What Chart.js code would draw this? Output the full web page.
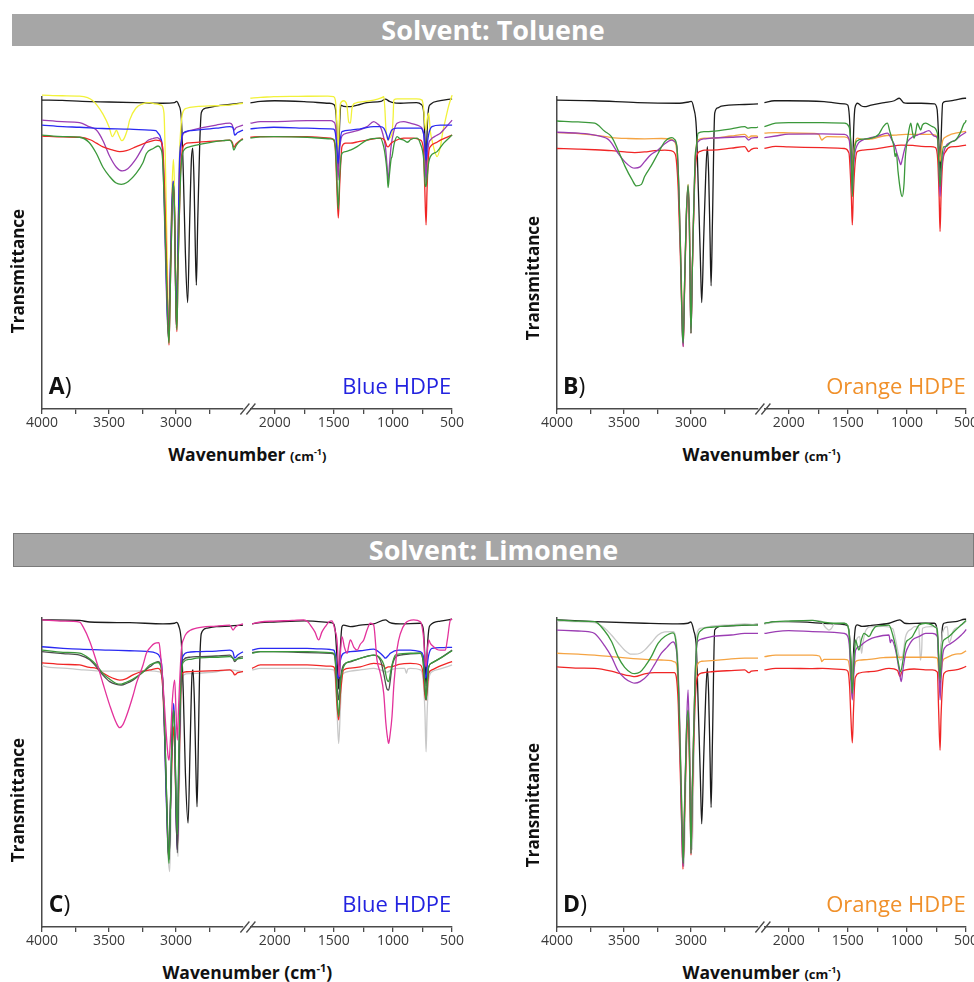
<!DOCTYPE html>
<html>
<head>
<meta charset="utf-8">
<script src="https://cdn.jsdelivr.net/npm/chart.js@4.4.1/dist/chart.umd.min.js"></script>
<style>
  html, body { margin: 0; padding: 0; background: #ffffff; }
  #page { position: relative; width: 974px; height: 982px; overflow: hidden; font-family: "Open Sans", sans-serif; }
  canvas { position: absolute; }
  .bar { position: absolute; background: #a6a6a6; color: #fff; font-weight: 700; font-size: 27px; text-align: center; box-sizing: border-box; }
  .ytitle { position: absolute; font-weight: 700; font-size: 17px; color: #111; white-space: nowrap; text-align: center; transform: rotate(-90deg); }
  .xtitle { position: absolute; font-weight: 700; font-size: 17.5px; color: #111; white-space: nowrap; text-align: center; }
  .xtitle .u { font-size: 13px; }
  .xtitle sup { font-size: 9px; vertical-align: 6px; line-height: 0; }
  .letter { position: absolute; font-size: 23px; color: #111; white-space: nowrap; }
  .letter b { font-weight: 700; }
  .tag { position: absolute; font-size: 22px; white-space: nowrap; text-align: right; }
</style>
</head>
<body>
<div id="page">
  <div class="bar" style="left:12px;top:14px;width:962px;height:32px;line-height:32px;">Solvent: Toluene</div>
  <div class="bar" style="left:13px;top:533px;width:961px;height:34px;line-height:32px;border:1px solid #7a7a7a;">Solvent: Limonene</div>
</div>
<script>
// ---------------- DATA: [wavenumber (cm-1), transmittance (a.u.)] ----------------
const TICKS_LEFT = [4000, 3750, 3500, 3250, 3000, 2750];
const TICKS_RIGHT = [2000, 1750, 1500, 1250, 1000, 750, 500];
const RANGE_LEFT = [2500, 4000];
const RANGE_RIGHT = [500, 2205];

// Panel A - Toluene, Blue HDPE
const A_black = [[4000,99.0],[3850,98.9],[3700,98.6],[3500,98.4],[3300,98.2],[3100,98.0],[3010,98.2],[2997,98.6],[2980,97.5],[2960,93],[2945,75],[2930,50],[2913,34.1],[2898,60],[2885,80],[2875,83.6],[2865,72],[2856,52],[2848,39.7],[2838,60],[2823,85],[2811,95],[2780,96.4],[2700,97.1],[2600,97.6],[2500,98.1],
 [2205,98.1],[2120,98.6],[2000,98.8],[1750,98.5],[1540,98.0],[1500,97.6],[1480,94],[1470,85],[1462,76],[1452,90],[1440,97.4],[1417,97.0],[1360,96.9],[1300,97.4],[1220,98.2],[1100,98.6],[1064,99.3],[1030,98.6],[1008,98.3],[937,98.0],[800,98.2],[760,97.6],[740,95],[728,85],[720,76],[712,88],[700,96],[684,97.6],[600,98.8],[500,99.4]];
const A_yellow = [[4000,100.6],[3850,100.4],[3720,100.3],[3660,99.8],[3620,98.8],[3590,97.4],[3545,94.5],[3500,90.5],[3475,87.3],[3460,88.2],[3445,89.4],[3430,88.0],[3405,86.0],[3390,86.5],[3360,90],[3346,92.6],[3300,96.4],[3250,97.8],[3200,98.2],[3150,97.8],[3110,97.4],[3090,95],[3075,70],[3060,35],[3052,24],[3042,45],[3030,70],[3020,80],[3012,72],[3003,40],[2997,26],[2988,50],[2975,80],[2960,92],[2945,95.5],[2920,96.4],[2850,96.9],[2700,97.2],[2600,97.4],[2500,98.0],
 [2205,99.6],[2120,99.9],[2008,100.1],[1800,100.2],[1550,100.3],[1501,100.1],[1487,99.0],[1475,92],[1464,80],[1456,90],[1445,97.8],[1417,98.8],[1390,97.5],[1374,92],[1360,91.6],[1346,96.4],[1320,98],[1250,98.5],[1163,99.0],[1100,99.7],[1078,100.1],[1068,96],[1060,90],[1041,86.2],[1025,87],[1008,88.4],[998,94],[993,99.0],[965,99.4],[900,99.4],[800,99.4],[754,99.0],[740,96],[730,91],[720,89.4],[710,93],[698,94.8],[684,89],[670,86.2],[650,83],[627,80.9],[599,84.1],[578,89],[557,92.6],[530,97],[514,99.0],[500,100.6]];
const A_purple = [[4000,92.6],[3850,92.1],[3720,91.8],[3650,90.5],[3594,89.4],[3545,86],[3495,81],[3445,77.5],[3400,76.3],[3360,77],[3296,80.3],[3246,84],[3221,85.7],[3170,86.7],[3140,87],[3122,86.5],[3109,85.7],[3097,80],[3085,60],[3070,35],[3057,23],[3045,40],[3032,65],[3022,73],[3012,65],[3003,40],[2997,26],[2988,45],[2975,75],[2960,85],[2947,88.2],[2935,88.6],[2900,89.2],[2823,90],[2700,91],[2599,91.6],[2580,91],[2569,89.4],[2550,90.2],[2500,91.0],
 [2205,91.6],[2121,92.1],[2008,92.1],[1726,92.4],[1529,92.4],[1501,92.0],[1487,91.0],[1475,85],[1464,73.4],[1453,82],[1431,87.5],[1388,88.4],[1303,89.2],[1219,90.5],[1163,92.1],[1135,91.5],[1107,90.5],[1078,87],[1064,84.1],[1050,78],[1041,72.9],[1030,78],[1016,84.1],[993,89],[965,91.6],[909,92.1],[853,91.6],[796,91.0],[768,90.5],[740,88],[728,80],[720,72.4],[712,80],[698,85],[684,86.2],[640,87.5],[599,88.4],[560,90],[500,92.6]];
const A_blue = [[4000,91.0],[3843,90.5],[3719,90.3],[3550,89.9],[3346,89.7],[3200,89.4],[3150,89.2],[3134,88.4],[3115,87],[3100,83],[3085,65],[3070,38],[3057,24],[3045,40],[3030,65],[3020,73],[3012,63],[3003,40],[2997,27],[2988,45],[2975,78],[2960,86],[2947,88.4],[2900,89.2],[2848,89.4],[2700,90],[2599,90.5],[2575,90.2],[2562,87.8],[2540,88.6],[2500,89.4],
 [2205,89.8],[2121,90.1],[2008,90.3],[1726,90.0],[1529,89.8],[1501,89.7],[1487,88.5],[1475,84],[1464,78.7],[1453,84],[1431,88.9],[1360,89.4],[1276,89.8],[1163,90.5],[1107,90.5],[1078,90.0],[1050,87.5],[1041,86.2],[1030,87.5],[1008,89.5],[965,90],[853,90],[768,90],[740,88],[728,83],[720,79.8],[712,84],[698,88],[670,90.5],[599,91.0],[500,91.0]];
const A_red = [[4000,87.5],[3843,87.2],[3719,87.1],[3640,86.3],[3594,85.2],[3545,84],[3470,83],[3420,82.5],[3370,82.8],[3296,84.1],[3246,85],[3196,85.7],[3150,86.2],[3122,86],[3100,84],[3085,70],[3070,45],[3060,28],[3052,20.5],[3042,40],[3030,62],[3020,71],[3010,62],[3002,35],[2993,24.8],[2985,45],[2967,75],[2947,84.1],[2920,85.2],[2898,85.3],[2773,85.7],[2650,86],[2599,86.2],[2580,85.5],[2569,83.9],[2550,85],[2512,86.4],[2500,86.6],
 [2205,87.1],[2121,87.3],[2008,87.3],[1726,87.3],[1529,86.8],[1501,86.2],[1487,83],[1475,72],[1462,61.2],[1450,72],[1431,84.1],[1400,85.2],[1360,85.2],[1290,85.7],[1219,86.2],[1107,86.8],[1070,86.2],[1050,84.1],[1041,84],[1016,85.2],[980,86],[909,86.8],[825,86.8],[768,86.2],[745,84],[732,72],[720,59],[712,70],[698,82],[684,84.1],[627,85.5],[599,86.2],[550,87],[500,87.8]];
const A_green = [[4000,87.8],[3843,87.3],[3719,87.1],[3650,85.5],[3594,81.9],[3545,77.5],[3495,74.5],[3450,72.5],[3408,72.0],[3370,72.5],[3296,75.6],[3246,79],[3221,81.9],[3170,83.5],[3134,84.3],[3115,83.5],[3100,80],[3085,62],[3070,40],[3060,26],[3052,21.1],[3042,40],[3030,62],[3020,72.4],[3010,62],[3002,35],[2993,25.4],[2985,45],[2965,75],[2947,82.5],[2900,84],[2848,84.6],[2750,85.4],[2650,86],[2599,86.2],[2580,85],[2569,83],[2550,84.5],[2512,86.2],[2500,86.4],
 [2205,86.8],[2121,87.2],[2008,87.3],[1726,87.1],[1529,86.6],[1501,86.4],[1487,84],[1475,75],[1462,64],[1450,75],[1431,81.9],[1400,82.5],[1360,83],[1303,84.1],[1219,86.2],[1107,86.8],[1078,84],[1064,80.9],[1050,76],[1041,71],[1030,75],[1016,80],[1008,80.9],[990,85],[965,87.3],[937,86.5],[909,86.2],[880,85.5],[867,85.7],[853,86.3],[796,86.8],[768,85],[740,80],[728,72],[720,71.3],[712,74],[698,79],[684,80.9],[627,82.5],[571,85.2],[500,87.8]];

// Panel B - Toluene, Orange HDPE
const B_black = [[4000,99.0],[3719,98.8],[3400,98.2],[3100,98.0],[3017,98.4],[2997,98.6],[2980,96.5],[2960,90],[2945,70],[2930,48],[2920,34.1],[2905,55],[2890,75],[2878,84.1],[2868,75],[2858,55],[2850,39.5],[2840,60],[2823,94.8],[2800,96.5],[2773,97.1],[2599,97.6],[2500,97.8],
 [2205,98.2],[2121,98.8],[2008,98.8],[1700,98.5],[1529,97.8],[1500,97.4],[1487,94],[1475,85],[1462,75],[1450,90],[1440,96.4],[1417,98.0],[1388,97.2],[1360,96.9],[1303,97.4],[1191,98.2],[1107,98.8],[1064,99.6],[1030,98.2],[993,98.0],[880,98.0],[768,97.8],[745,96],[730,85],[720,75],[710,88],[698,98.0],[670,98.6],[599,99.0],[510,99.6],[500,99.6]];
const B_orange = [[4000,88.6],[3843,88.3],[3719,87.8],[3594,87.0],[3470,86.7],[3346,86.6],[3221,86.7],[3147,86.4],[3130,86],[3110,84],[3095,75],[3080,55],[3068,35],[3058,22],[3048,40],[3035,62],[3022,72],[3012,62],[3005,38],[3000,26],[2990,45],[2970,78],[2947,86.2],[2900,86.8],[2848,86.8],[2700,87.5],[2599,88.0],[2569,87],[2550,87.5],[2512,87.5],[2500,87.3],
 [2205,88.4],[2110,88.6],[2000,88.5],[1790,88.3],[1745,88.0],[1730,86.8],[1720,86.2],[1700,86.8],[1673,87.3],[1530,87.2],[1490,86.5],[1478,84],[1470,78],[1462,73.4],[1454,80],[1440,85],[1420,86.8],[1370,86.4],[1292,86.6],[1200,87.5],[1100,87.8],[1010,88.0],[900,88.0],[800,88.0],[760,87.8],[740,86],[728,81],[720,79.3],[712,82],[698,86],[673,87.2],[630,88.0],[590,88.4],[500,89.0]];
const B_red = [[4000,83.5],[3843,83.3],[3719,83.1],[3594,82.8],[3495,82.4],[3420,82.2],[3346,82.4],[3271,82.8],[3196,83.0],[3150,82.8],[3125,82.2],[3110,80],[3095,70],[3080,50],[3068,30],[3058,20.0],[3048,38],[3035,60],[3022,70.2],[3012,58],[3005,35],[3000,24.3],[2990,45],[2970,75],[2955,81.4],[2930,82.6],[2900,83.0],[2848,83.0],[2700,83.6],[2599,84.1],[2569,82.5],[2550,83.2],[2512,83.6],[2500,83.5],
 [2205,83.5],[2110,84.2],[2000,84.0],[1715,83.8],[1530,83.5],[1490,82],[1478,75],[1470,68],[1462,59.0],[1454,68],[1440,78],[1420,82.5],[1370,83.0],[1300,83.2],[1150,84.1],[1050,84.6],[950,84.5],[880,84.2],[800,84.1],[760,83.8],[740,80],[728,68],[720,56.9],[712,68],[698,79],[673,82.5],[630,84.0],[590,84.1],[500,84.6]];
const B_purple = [[4000,88.7],[3843,88.4],[3719,87.8],[3620,86.5],[3594,85.3],[3545,82],[3495,79.3],[3445,77.5],[3420,77.2],[3380,77.6],[3346,79.3],[3300,81.5],[3246,83],[3196,85],[3147,86.2],[3125,85.8],[3105,84],[3090,70],[3075,45],[3065,25],[3058,20.0],[3048,40],[3035,62],[3022,71.3],[3012,60],[3005,35],[3000,24.3],[2990,45],[2970,78],[2947,85.7],[2900,86.6],[2848,86.8],[2700,87.1],[2599,87.3],[2569,86.2],[2550,86.8],[2512,87.0],[2500,87.1],
 [2205,87.0],[2110,87.5],[2000,88.1],[1715,88.2],[1530,88.0],[1490,86.5],[1478,82],[1470,75],[1462,69.1],[1454,76],[1440,82],[1420,84.6],[1380,86.1],[1320,86.8],[1250,87.4],[1166,88.4],[1124,86],[1100,84.1],[1085,82],[1060,79],[1053,78.3],[1040,80],[1025,82.5],[1005,85],[968,86.8],[912,87.8],[868,88.4],[814,89.2],[770,87.5],[743,87],[732,80],[720,68.1],[710,76],[690,82],[673,84.1],[630,85.5],[588,86.2],[550,87.5],[504,88.6],[500,88.7]];
const B_green = [[4000,92.3],[3843,92.0],[3719,91.6],[3644,89],[3594,87.3],[3545,83],[3495,78],[3440,73.5],[3408,71.5],[3370,72],[3346,74.5],[3296,78],[3246,81.9],[3196,85.7],[3142,87.0],[3125,86.5],[3105,84],[3090,70],[3075,45],[3065,25],[3058,21.1],[3048,40],[3035,62],[3022,71.8],[3012,60],[3005,35],[3000,24.3],[2990,45],[2970,80],[2960,84.1],[2947,88.4],[2900,88.9],[2848,89],[2700,89.8],[2599,90.5],[2574,90.0],[2550,90.2],[2512,90.2],[2500,90.4],
 [2205,90.5],[2110,91.6],[2000,91.8],[1715,91.8],[1530,91.6],[1490,90.5],[1478,87],[1470,80],[1462,68.1],[1454,78],[1440,84.1],[1420,86],[1370,86.5],[1300,86.8],[1240,88],[1200,90.5],[1166,91.6],[1145,89],[1124,86.2],[1110,84],[1100,80.9],[1090,82],[1075,76],[1055,70],[1040,68.1],[1025,72],[1015,80],[1005,84.1],[985,89],[968,91.6],[955,89],[940,86.8],[925,89],[912,91.6],[898,90.5],[884,89.4],[870,91],[842,91.6],[785,90.5],[743,88.4],[732,80],[720,71.3],[710,78],[690,84],[673,84.1],[630,85.5],[588,86.2],[550,88.5],[520,91.3],[504,92.1],[500,92.6]];

// Panel C - Limonene, Blue HDPE
const C_lightgray = [[4000,84.6],[3943,84.0],[3843,83.8],[3719,83.3],[3594,82.9],[3346,82.8],[3196,82.9],[3122,82.6],[3105,81],[3090,70],[3075,45],[3060,24],[3047,17.9],[3038,35],[3027,58],[3017,69.1],[3008,55],[2997,35],[2985,22.8],[2975,45],[2960,75],[2942,81.6],[2900,82.0],[2848,82.1],[2700,82.6],[2599,83.2],[2500,82.6],
 [2191,83.2],[2121,83.7],[2008,83.7],[1726,83.7],[1529,83.4],[1501,83.2],[1487,80],[1473,70],[1459,59.4],[1445,70],[1431,81],[1417,82.1],[1360,82.8],[1276,83.2],[1163,83.7],[1107,83.2],[1050,82.5],[1008,83.4],[937,83.7],[900,83.7],[886,82.1],[875,83.5],[853,83.7],[768,83.2],[745,80],[730,70],[720,56.7],[712,68],[698,80],[670,82.6],[599,83.5],[500,84.8]];
const C_black = [[4000,99.4],[3719,99.2],[3644,98.7],[3346,98.5],[3097,98.1],[3010,98.3],[2997,98.6],[2980,97.5],[2960,92],[2945,75],[2930,50],[2910,33.6],[2895,58],[2880,82],[2873,83.2],[2862,72],[2852,52],[2843,38.9],[2833,60],[2823,85],[2811,95.0],[2773,96.7],[2700,97.2],[2599,97.4],[2500,97.7],
 [2191,98.1],[2121,98.5],[2008,98.7],[1750,99.1],[1529,98.5],[1501,98.1],[1487,95.5],[1473,87],[1459,77.0],[1445,90],[1431,97.2],[1417,97.7],[1360,97.2],[1276,97.7],[1163,98.1],[1064,99.4],[1030,98.6],[1008,98.3],[937,98.1],[768,98.3],[754,97.8],[740,95],[728,85],[720,78],[712,88],[698,96],[684,97.7],[599,99.0],[500,99.6]];
const C_red = [[4000,85.5],[3843,85.0],[3719,84.8],[3644,84.0],[3594,83.7],[3545,82.2],[3470,80.5],[3420,79.9],[3380,80.2],[3321,81.6],[3246,82.8],[3196,83.2],[3134,83.7],[3115,83],[3100,78],[3085,62],[3070,40],[3060,26],[3052,22],[3042,38],[3030,55],[3017,64.8],[3008,55],[3000,38],[2990,25],[2980,45],[2965,75],[2952,82.1],[2920,82.6],[2848,82.7],[2700,83.0],[2599,83.2],[2575,82.5],[2562,81.6],[2540,82.3],[2500,82.7],
 [2191,83.7],[2121,84.8],[2008,84.8],[1726,84.8],[1529,84.4],[1501,84.2],[1487,82],[1473,72],[1459,67],[1445,75],[1417,83.2],[1360,83.8],[1276,84.2],[1163,85.3],[1078,84.5],[1064,83.7],[1040,84.2],[1022,84.2],[950,85.0],[853,85.3],[768,84.8],[745,82],[730,75],[720,73.5],[712,76],[698,82],[670,83.2],[599,84.5],[500,85.9]];
const C_blue = [[4000,90.7],[3843,90.2],[3719,89.9],[3500,89.6],[3346,89.4],[3221,89.2],[3147,88.6],[3122,87.5],[3105,84],[3090,70],[3075,45],[3062,28],[3052,22],[3042,38],[3030,62],[3017,72.4],[3008,62],[3000,38],[2990,25],[2980,50],[2965,80],[2947,87.7],[2910,88.9],[2848,89.1],[2700,89.3],[2599,89.6],[2575,89],[2562,87],[2540,88],[2500,89.1],
 [2191,89.6],[2121,90.2],[2008,90.2],[1726,90.2],[1529,89.8],[1501,89.6],[1487,88],[1473,82],[1459,80.5],[1445,86],[1417,88.6],[1360,89.1],[1276,89.4],[1163,89.9],[1107,88.6],[1078,87.5],[1064,87.0],[1040,87.8],[1022,88.6],[950,89.6],[853,89.6],[768,89.1],[745,88],[730,82],[720,80.5],[712,84],[698,88],[670,90.2],[599,90.4],[500,90.5]];
const C_darkgray = [[4000,89.1],[3843,88.5],[3719,88.0],[3644,86.5],[3594,84.2],[3545,81.5],[3495,79.4],[3445,78.5],[3408,78.3],[3371,78.8],[3321,79.9],[3246,82.5],[3196,84.2],[3134,85.9],[3115,85],[3100,80],[3085,65],[3070,42],[3060,28],[3052,22],[3042,38],[3030,62],[3017,70.2],[3008,60],[3000,38],[2990,24],[2980,50],[2965,78],[2947,86.4],[2900,87.3],[2848,87.5],[2700,87.7],[2599,88.0],[2575,87],[2562,85.9],[2540,87],[2500,87.5],
 [2191,88.8],[2121,89.1],[2008,89.1],[1726,88.8],[1529,88.6],[1501,88.4],[1487,86],[1473,78],[1459,73.5],[1445,80],[1417,84.8],[1360,85.8],[1303,86.6],[1163,88.0],[1107,86.4],[1078,82],[1050,77],[1036,76.7],[1022,80],[1008,84.2],[979,87.3],[937,88.0],[853,88.4],[768,88.6],[745,86],[730,78],[720,73.5],[712,78],[698,84.2],[670,85.5],[599,87],[500,89.6]];
const C_green = [[4000,89.6],[3843,88.9],[3719,88.6],[3644,86.8],[3594,84.8],[3545,82],[3495,80.2],[3445,78.8],[3408,78.6],[3371,79.2],[3321,80.2],[3246,82.5],[3196,84.8],[3134,85.6],[3115,84.5],[3100,80],[3085,65],[3070,42],[3060,26],[3052,20.6],[3042,38],[3030,62],[3017,70.2],[3008,60],[3000,42],[2990,30],[2980,55],[2965,78],[2947,85.6],[2900,86.6],[2848,87.0],[2700,87.3],[2599,87.5],[2575,87],[2562,86.4],[2540,86.8],[2500,87.0],
 [2191,88.6],[2121,89.1],[2008,89.1],[1726,89.1],[1529,88.8],[1501,88.6],[1487,86],[1473,75],[1459,68.1],[1445,78],[1417,84.2],[1360,86],[1303,86.6],[1163,88.0],[1107,87],[1078,85],[1050,80],[1036,79.4],[1022,82],[1008,84.8],[979,88.0],[937,88.4],[853,88.6],[768,88.6],[745,86],[730,78],[720,73.5],[712,78],[698,84.2],[670,85.5],[599,87],[500,89.4]];
const C_magenta = [[4000,99.4],[3843,99.0],[3719,98.7],[3694,97.2],[3644,92.5],[3594,86],[3545,78.8],[3495,71.8],[3445,66],[3420,64.5],[3396,65.5],[3371,68.1],[3320,75],[3296,78.8],[3246,84.8],[3221,88.6],[3190,90.6],[3159,91.8],[3127,92.0],[3115,88],[3097,78.8],[3075,64],[3060,55.5],[3052,54.0],[3040,62],[3027,73.5],[3010,79.9],[3000,70],[2990,60.5],[2980,72],[2960,89.6],[2940,93.5],[2922,95.0],[2848,96.7],[2700,97.4],[2599,97.7],[2574,96.1],[2555,97.2],[2500,98.1],
 [2191,98.1],[2121,98.7],[2008,99.0],[1850,99.2],[1755,99.4],[1720,98.8],[1698,97.7],[1660,95.5],[1628,92.9],[1600,95.5],[1572,97.2],[1540,98.8],[1515,99.1],[1490,96],[1473,92.9],[1460,84],[1453,81.0],[1445,88],[1431,94.0],[1410,90.5],[1388,88.6],[1374,91],[1360,92.9],[1330,90.5],[1303,89.6],[1276,91.5],[1247,92.9],[1220,96],[1191,98.3],[1163,97.7],[1135,86.4],[1107,82.1],[1078,75.6],[1060,66],[1041,60],[1036,59.4],[1025,62],[1008,68.1],[993,78],[979,84.2],[965,90],[937,95.0],[895,98.3],[825,99.4],[768,98.8],[745,95],[740,92.9],[728,86],[720,84.2],[712,88],[698,92.9],[684,91.8],[656,90.7],[627,89.8],[599,89.6],[557,89.6],[540,93],[514,99.4],[500,99.6]];

// Panel D - Limonene, Orange HDPE
const D_black = [[4000,99.4],[3719,98.8],[3346,98.3],[3100,98.1],[3022,98.3],[3002,98.7],[2980,96],[2960,90],[2945,70],[2930,48],[2920,33.4],[2905,55],[2890,75],[2878,83.7],[2868,75],[2858,55],[2850,38.7],[2840,60],[2823,96.1],[2773,97.4],[2599,97.7],[2512,97.9],[2500,97.9],
 [2205,98.2],[2110,98.8],[2000,98.8],[1650,98.2],[1530,97.9],[1500,97.4],[1485,94],[1476,88],[1462,78],[1450,90],[1434,97.2],[1420,97.8],[1380,97.3],[1300,97.6],[1150,98.3],[1060,99.4],[1020,98.3],[980,98.2],[880,98.3],[768,98.3],[752,97.5],[738,92],[728,82],[720,78],[712,88],[700,97],[687,98.3],[590,98.8],[510,99.6],[500,99.6]];
const D_lightgray = [[4000,99.1],[3843,98.8],[3719,98.5],[3644,96.7],[3594,94.5],[3545,92],[3495,89.6],[3445,88.3],[3420,88.3],[3380,88.6],[3346,89.6],[3296,92],[3246,94.5],[3196,95.5],[3134,95.6],[3115,94],[3100,88],[3085,70],[3070,42],[3060,25],[3052,19.6],[3042,40],[3030,62],[3017,70],[3008,58],[2997,35],[2990,25],[2980,50],[2965,85],[2952,95.6],[2922,96.7],[2848,97.4],[2700,97.8],[2599,98.1],[2500,97.7],
 [2205,98.1],[2110,98.7],[2000,99.0],[1800,99.2],[1730,99.1],[1690,97],[1660,96.1],[1640,96.5],[1614,98.1],[1530,98.3],[1500,97.6],[1485,92],[1474,82],[1462,77.8],[1452,85],[1420,93.5],[1400,94],[1383,88.6],[1372,92],[1346,96.1],[1300,97.2],[1200,97.3],[1120,96.5],[1096,93],[1070,88],[1053,86.4],[1035,88],[1011,94],[960,96.5],[937,97.2],[900,97.2],[889,88],[886,86.4],[875,90],[869,96.7],[800,97.2],[757,97.2],[743,95],[732,88],[720,79.9],[712,88],[700,95],[659,97.2],[645,92],[631,92.9],[612,95.6],[560,97.2],[503,98.8],[500,99.0]];
const D_orange = [[4000,88.6],[3843,88.3],[3719,88.0],[3594,87.5],[3470,87.0],[3346,86.6],[3221,86.4],[3147,86.2],[3125,85.8],[3110,85.3],[3095,78],[3080,55],[3068,35],[3058,21.7],[3048,38],[3035,60],[3022,70.2],[3012,58],[3005,38],[3000,26],[2990,45],[2970,78],[2947,85.3],[2920,86.0],[2848,86.2],[2700,86.8],[2599,87.0],[2500,87.0],
 [2205,87.5],[2110,88.0],[2000,88.0],[1800,88.0],[1740,87.7],[1725,86.5],[1720,85.9],[1700,86.6],[1673,86.6],[1530,86.6],[1500,86.4],[1485,84],[1474,80],[1462,79.9],[1452,82],[1434,85.9],[1400,86.4],[1320,86.6],[1200,87.2],[1100,87.3],[1000,87.3],[880,87.3],[785,87.3],[743,87.0],[732,83],[720,79.9],[712,82],[698,86],[673,87],[620,88.0],[588,88.3],[540,88.5],[503,89.3],[500,89.4]];
const D_red = [[4000,84.2],[3843,83.8],[3719,83.7],[3594,82.8],[3495,81.6],[3445,81.2],[3420,81.0],[3346,81.9],[3271,82.3],[3147,82.3],[3125,82.3],[3110,81],[3095,72],[3080,50],[3068,30],[3060,18.7],[3048,36],[3035,58],[3022,67],[3012,55],[3005,36],[3000,23.3],[2990,42],[2970,72],[2952,81.0],[2920,82.2],[2848,82.6],[2700,83.0],[2599,83.2],[2569,82.3],[2550,82.8],[2512,83.0],[2500,83.0],
 [2205,83.2],[2110,83.7],[2000,83.7],[1800,83.6],[1715,83.7],[1530,83.3],[1500,82.8],[1485,78],[1474,68],[1462,59.6],[1452,70],[1440,80],[1434,81.0],[1400,82.2],[1321,82.6],[1250,82.9],[1152,83.7],[1080,83.0],[1059,81.0],[1045,82.5],[1011,83.2],[940,83.5],[842,83.2],[785,83.2],[743,82.5],[732,70],[720,57.2],[712,68],[698,79],[687,82.1],[640,83],[588,83.2],[540,83.7],[503,84.3],[500,84.4]];
const D_purple = [[4000,96.1],[3843,95.8],[3768,95.6],[3719,95.0],[3644,91],[3594,87.5],[3545,83],[3495,80.5],[3445,79.2],[3420,78.9],[3380,79.4],[3321,81.6],[3271,85],[3221,88.6],[3180,90.5],[3134,92.3],[3115,91],[3105,88],[3090,75],[3075,45],[3065,25],[3058,19.6],[3048,40],[3035,62],[3022,76.7],[3012,60],[3005,38],[3000,23.8],[2990,45],[2970,80],[2952,92.3],[2920,93.2],[2848,94.0],[2700,94.5],[2599,95.0],[2500,95.0],
 [2205,95.0],[2110,95.6],[2000,95.9],[1800,95.6],[1715,95.5],[1530,95.0],[1500,94],[1485,90],[1474,80],[1462,73.5],[1452,80],[1434,89.6],[1400,90.8],[1363,92],[1321,93],[1265,93.8],[1152,94.5],[1140,92],[1130,93],[1096,89.6],[1070,84],[1053,80],[1048,79.4],[1035,83],[1011,88.6],[985,91],[954,92.9],[898,94.0],[842,95.0],[785,95.0],[743,94.0],[732,86],[720,73.5],[712,80],[698,88],[673,90.7],[640,91.5],[588,92.9],[540,94.5],[503,96.1],[500,96.3]];
const D_green = [[4000,99.4],[3843,99.0],[3719,98.8],[3644,95.8],[3594,92.5],[3545,87.5],[3495,84],[3445,82.2],[3420,82.0],[3380,82.5],[3346,84.2],[3296,87.5],[3246,91.8],[3196,94],[3134,95.2],[3115,93],[3100,85],[3085,65],[3070,40],[3062,25],[3058,20.6],[3048,38],[3035,62],[3022,70.2],[3012,58],[3005,35],[3000,23.8],[2990,45],[2970,80],[2960,90],[2947,94.5],[2920,96.1],[2900,96.7],[2848,97.0],[2700,97.5],[2599,97.7],[2500,97.7],
 [2205,98.3],[2110,98.8],[2000,99.0],[1800,99.2],[1715,98.7],[1620,98.3],[1530,98.3],[1500,97.5],[1485,93],[1474,84],[1462,75.6],[1452,84],[1434,92.9],[1420,91],[1406,89.6],[1385,93],[1363,95.0],[1340,94.5],[1321,94.0],[1290,96],[1265,97.2],[1152,97.7],[1120,94.5],[1096,90.7],[1075,86],[1053,82.6],[1035,86],[1011,91.8],[985,93],[954,94.0],[925,96],[898,97.7],[842,98.3],[785,97.7],[760,97],[743,96.1],[732,88],[720,79.9],[712,86],[698,92],[687,92.9],[665,93.5],[645,94.0],[588,96.1],[540,97.8],[503,99.1],[500,99.2]];

// ---------------- STYLE ----------------
const COL = { black:'#1c1c1c', yellow:'#f2f23a', purple:'#9b3db3', blue:'#2a2af2', red:'#f02626', green:'#3b983b',
              orange:'#f5a443', magenta:'#e3329b', darkgray:'#4d4d4d', lightgray:'#c8c8c8' };
const AXIS = '#4a4a4a';

// series listed bottom -> top
const PANELS = [
  { letter:'A', tag:'Blue HDPE', tagColor:'#2323e0', axisX:42.3, top:97, bottom:409, yTitleY:271, bigUnit:false,
    series:[[A_black,'black'],[A_yellow,'yellow'],[A_purple,'purple'],[A_blue,'blue'],[A_red,'red'],[A_green,'green']] },
  { letter:'B', tag:'Orange HDPE', tagColor:'#f0902a', axisX:556.6, top:97, bottom:409, yTitleY:278, bigUnit:false,
    series:[[B_black,'black'],[B_orange,'orange'],[B_red,'red'],[B_purple,'purple'],[B_green,'green']] },
  { letter:'C', tag:'Blue HDPE', tagColor:'#2323e0', axisX:42.3, top:618, bottom:927, yTitleY:800, bigUnit:true,
    series:[[C_lightgray,'lightgray'],[C_black,'black'],[C_red,'red'],[C_blue,'blue'],[C_darkgray,'darkgray'],[C_green,'green'],[C_magenta,'magenta']] },
  { letter:'D', tag:'Orange HDPE', tagColor:'#f0902a', axisX:556.6, top:618, bottom:927, yTitleY:805, bigUnit:false,
    series:[[D_black,'black'],[D_lightgray,'lightgray'],[D_orange,'orange'],[D_red,'red'],[D_purple,'purple'],[D_green,'green']] }
];

const page = document.getElementById('page');

function seg(pairs, lo, hi) {
  return pairs.filter(p => p[0] >= lo && p[0] <= hi).map(p => ({ x: p[0], y: p[1] }));
}

const breakMarks = {
  id: 'breakMarks',
  afterDraw(chart) {
    const { ctx, chartArea } = chart;
    const x = chartArea.right, y = chartArea.bottom;
    ctx.save();
    ctx.strokeStyle = AXIS; ctx.lineWidth = 1.3;
    ctx.beginPath();
    ctx.moveTo(x - 2.6, y + 5.5); ctx.lineTo(x + 6.4, y - 5.5);
    ctx.moveTo(x + 3.4, y + 5.5); ctx.lineTo(x + 12.4, y - 5.5);
    ctx.stroke();
    ctx.restore();
  }
};

function makeChart(p, isLeft) {
  const PT = 12, XH = 30;
  let canvasLeft, plotL, plotR, padL, padR, width, range, ticks;
  if (isLeft) {
    plotL = p.axisX; plotR = p.axisX + 201;
    canvasLeft = plotL - 40; padL = 0; width = Math.ceil(plotR - canvasLeft + 16); padR = width - (plotR - canvasLeft);
    range = RANGE_LEFT; ticks = TICKS_LEFT;
  } else {
    plotL = p.axisX + 208.3; plotR = p.axisX + 409.4;
    canvasLeft = plotL - 5; padL = 5; width = Math.ceil(plotR - canvasLeft + 22); padR = width - (plotR - canvasLeft);
    range = [RANGE_RIGHT[0], 2200]; ticks = TICKS_RIGHT;
  }
  const canvasTop = p.top - PT;
  const height = p.bottom - canvasTop + XH;
  const cv = document.createElement('canvas');
  cv.width = width; cv.height = height;
  cv.style.left = canvasLeft + 'px'; cv.style.top = canvasTop + 'px';
  cv.style.width = width + 'px'; cv.style.height = height + 'px';
  page.appendChild(cv);
  const n = p.series.length;
  const lo = isLeft ? RANGE_LEFT[0] : RANGE_RIGHT[0];
  const hi = isLeft ? RANGE_LEFT[1] : RANGE_RIGHT[1];
  return new Chart(cv, {
    type: 'line',
    data: {
      datasets: p.series.map((s, i) => ({
        data: seg(s[0], lo, hi),
        borderColor: COL[s[1]], borderWidth: 1.3, pointRadius: 0, fill: false,
        cubicInterpolationMode: 'monotone', clip: 4, order: n - i
      }))
    },
    options: {
      responsive: false, animation: false, events: [],
      layout: { padding: { left: padL, right: padR, top: PT, bottom: 0 } },
      plugins: { legend: { display: false }, tooltip: { enabled: false } },
      scales: {
        x: {
          type: 'linear', reverse: true, min: range[0], max: range[1],
          afterBuildTicks: sc => { sc.ticks = ticks.map(v => ({ value: v })); },
          afterFit: sc => { sc.height = XH; },
          ticks: { autoSkip: false, maxRotation: 0, minRotation: 0, padding: 1, color: '#3a3a3a',
                   font: { family: 'Open Sans', size: 14 },
                   callback: v => (v % 500 === 0 ? String(v) : '') },
          grid: { display: true, drawOnChartArea: false, drawTicks: true, tickLength: 5, color: AXIS, lineWidth: 1.3 },
          border: { display: true, color: AXIS, width: 1.5 }
        },
        y: {
          display: isLeft, min: 0, max: 100,
          afterFit: sc => { sc.width = isLeft ? 40 : 0; },
          ticks: { display: false }, grid: { display: false },
          border: { display: true, color: AXIS, width: 1.5 }
        }
      }
    },
    plugins: isLeft ? [breakMarks] : []
  });
}

function addDiv(cls, html, style) {
  const d = document.createElement('div');
  d.className = cls; d.innerHTML = html;
  Object.assign(d.style, style);
  page.appendChild(d);
  return d;
}

PANELS.forEach(p => {
  makeChart(p, true);
  makeChart(p, false);
  addDiv('ytitle', 'Transmittance', { left: (p.axisX - 24 - 80) + 'px', top: (p.yTitleY - 12) + 'px', width: '160px', height: '24px', lineHeight: '24px' });
  const unit = p.bigUnit ? '(cm<sup style="font-size:11px;vertical-align:7px">-1</sup>)' : '<span class="u">(cm<sup>-1</sup>)</span>';
  addDiv('xtitle', 'Wavenumber ' + unit, { left: (p.axisX + 205 - 150) + 'px', top: (p.bottom + 45 - 13) + 'px', width: '300px', height: '26px', lineHeight: '26px' });
  addDiv('letter', '<b>' + p.letter + '</b>)', { left: (p.axisX + 6.5) + 'px', top: (p.bottom - 24 - 16) + 'px', height: '32px', lineHeight: '32px' });
  addDiv('tag', p.tag, { right: (974 - (p.axisX + 409)) + 'px', top: (p.bottom - 24 - 16) + 'px', height: '32px', lineHeight: '32px', color: p.tagColor });
});
</script>
</body>
</html>
